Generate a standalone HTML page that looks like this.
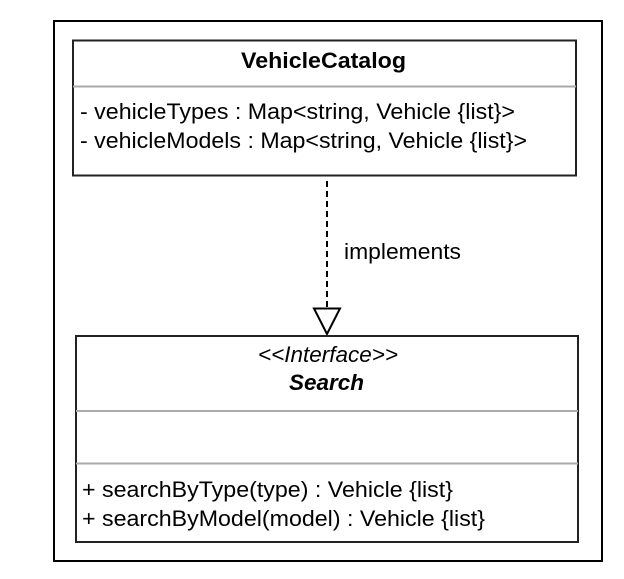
<!DOCTYPE html>
<html><head><style>html,body{margin:0;padding:0;background:#fff;}svg{display:block;}</style></head>
<body>
<svg width="624" height="579" viewBox="0 0 624 579" xmlns="http://www.w3.org/2000/svg" font-family="Liberation Sans, Arial, sans-serif">
<rect x="0" y="0" width="624" height="579" fill="#fff"/>
<rect x="54" y="21" width="548" height="540" fill="none" stroke="#000" stroke-width="2"/>
<rect x="73" y="40.5" width="503" height="135" fill="#fff" stroke="#222" stroke-width="2"/>
<line x1="73" y1="86.5" x2="576" y2="86.5" stroke="#aaa" stroke-width="2"/>
<text x="241" y="68" font-size="22" font-weight="bold" textLength="165" lengthAdjust="spacingAndGlyphs">VehicleCatalog</text>
<text x="80" y="119" font-size="22" textLength="435" lengthAdjust="spacingAndGlyphs">- vehicleTypes : Map&lt;string, Vehicle {list}&gt;</text>
<text x="80" y="148" font-size="22" textLength="447" lengthAdjust="spacingAndGlyphs">- vehicleModels : Map&lt;string, Vehicle {list}&gt;</text>
<line x1="327" y1="181" x2="327" y2="308" stroke="#000" stroke-width="2" stroke-dasharray="6,4"/>
<polygon points="314,308.5 340,308.5 327,334" fill="#fff" stroke="#000" stroke-width="2"/>
<text x="344" y="259" font-size="22" textLength="117" lengthAdjust="spacingAndGlyphs">implements</text>
<rect x="76" y="336" width="502" height="206" fill="#fff" stroke="#222" stroke-width="2"/>
<line x1="76" y1="411" x2="578" y2="411" stroke="#aaa" stroke-width="2"/>
<line x1="76" y1="463.5" x2="578" y2="463.5" stroke="#aaa" stroke-width="2"/>
<text x="258" y="362" font-size="22" font-style="italic" textLength="140" lengthAdjust="spacingAndGlyphs">&lt;&lt;Interface&gt;&gt;</text>
<text x="289" y="390" font-size="22" font-style="italic" font-weight="bold" textLength="75" lengthAdjust="spacingAndGlyphs">Search</text>
<text x="82" y="497" font-size="22" textLength="371" lengthAdjust="spacingAndGlyphs">+ searchByType(type) : Vehicle {list}</text>
<text x="82" y="526" font-size="22" textLength="403" lengthAdjust="spacingAndGlyphs">+ searchByModel(model) : Vehicle {list}</text>
</svg>
</body></html>
